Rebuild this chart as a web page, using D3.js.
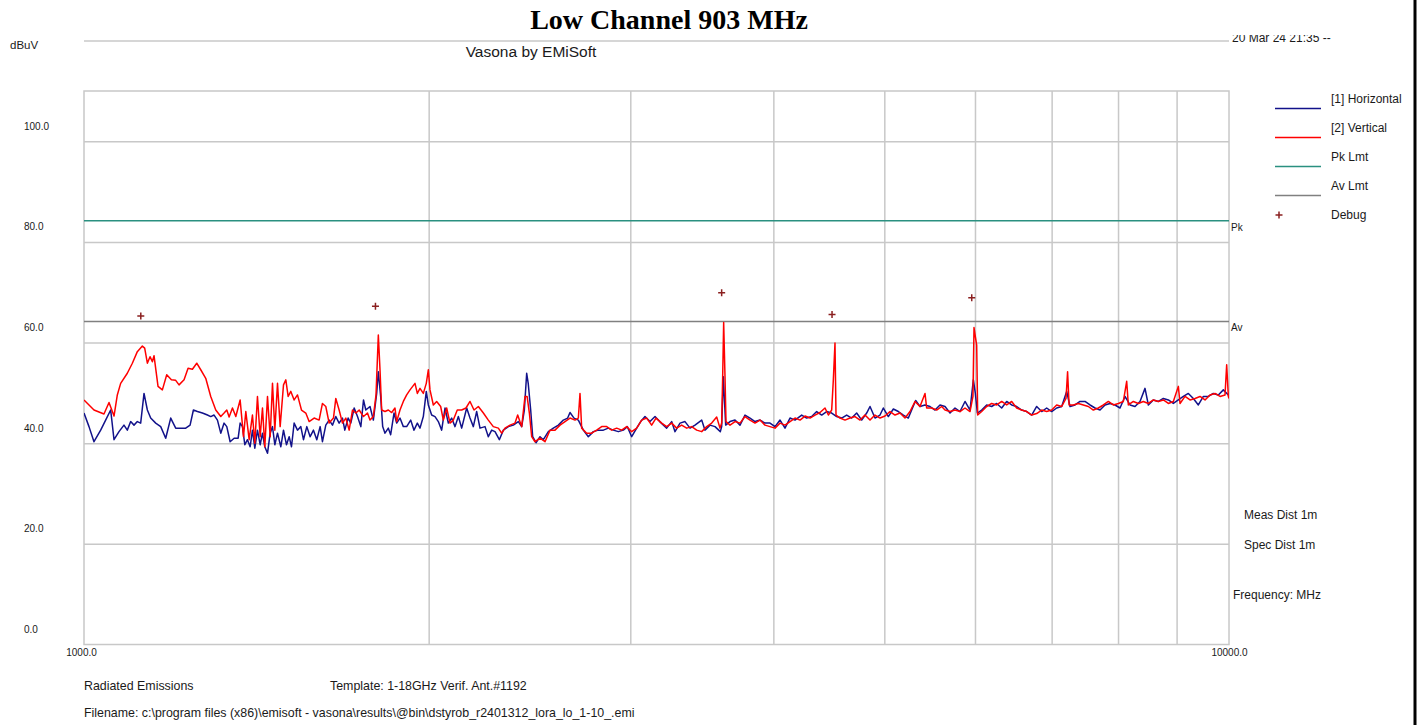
<!DOCTYPE html>
<html>
<head>
<meta charset="utf-8">
<title>Low Channel 903 MHz</title>
<script src="https://cdn.jsdelivr.net/npm/d3@7"></script>
<style>
  body { margin: 0; background: #fff; }
  text { font-family: "Liberation Sans", Arial, sans-serif; fill: #1a1a1a; }
  .title { font-family: "Liberation Serif", "Times New Roman", serif; font-weight: bold; font-size: 28px; fill: #000; }
</style>
</head>
<body>
<div id="chart"></div>
<script>
// scan data: [frequency MHz, level dBuV]
const horizontalScan = [
  [1000,46],[1010.1,43.3],[1020.3,40.3],[1034.1,42.6],[1044.5,44.6],[1055.1,46.6],[1062.2,40.7],[1072.9,42.3],
  [1083.7,43.6],[1091,42.6],[1098.4,44.3],[1105.8,43.6],[1113.2,44.3],[1120.7,44],[1128.3,49.9],[1135.9,46.6],
  [1143.5,45],[1155.1,44],[1166.8,43.3],[1178.6,41],[1190.5,45],[1202.5,43],[1214.7,43],[1227,43],[1237.8,43.6],
  [1246.1,46.6],[1256.2,46.3],[1268.9,46],[1281.7,45.6],[1290.3,45.3],[1299,45.6],[1307.8,44.6],[1316.6,42],
  [1325.4,44],[1332.6,43.3],[1341.6,40.3],[1352.4,41],[1363.4,41],[1368.9,44],[1375.3,43.3],[1381.8,39.7],
  [1389.2,40.7],[1396.7,39.3],[1403.2,42.6],[1409.9,39],[1417.4,42.6],[1425.1,39.7],[1431.8,42],[1438.5,39.3],
  [1446.3,38],[1454.1,42],[1460.9,43.3],[1467.8,39.7],[1475.7,42],[1485.6,39.3],[1493.6,42.6],[1502.6,39.7],
  [1510.7,41.3],[1517.8,39.3],[1525.9,44],[1536.2,42.6],[1546.5,43.3],[1554.8,40.7],[1565.3,43.3],[1575.8,41.3],
  [1586.4,42.6],[1597,40.7],[1607.8,43.3],[1615.3,40.3],[1626.2,43.6],[1637.2,44.6],[1648.2,43.6],[1659.3,45.3],
  [1670.4,44],[1681.7,45],[1689.6,42.6],[1701,45],[1710.1,44],[1721.7,47],[1733.3,45.3],[1744.9,43.3],
  [1754.3,48.6],[1762.5,46.6],[1777.4,47.3],[1789.4,44.6],[1801.4,49.9],[1807.4,54.2],[1815.9,49.3],
  [1823.3,43.3],[1831.8,42],[1844.1,43],[1852.8,41.7],[1865.3,46],[1875.3,44],[1887.9,45],[1900.6,43.3],
  [1913.4,43.3],[1928.9,44.6],[1941.8,42.6],[1954.9,44],[1965.4,43],[1978.6,45.3],[1990.4,50.3],[1998.6,47.6],
  [2012,45.6],[2025.6,45.3],[2039.2,44.3],[2052.9,42.6],[2066.8,47],[2080.6,44],[2094.6,45],[2108.8,43.3],
  [2123,45.3],[2137.2,43],[2158.9,47],[2173.3,45],[2187.9,43.3],[2202.7,46.3],[2217.5,43],[2239.9,43.3],
  [2254.9,41.3],[2270.2,42.6],[2285.4,42.3],[2305.4,40.7],[2324,42.6],[2347.6,43.3],[2371.2,43.6],[2395.2,44.3],
  [2411.3,43.3],[2424.3,46.6],[2435.7,53.9],[2443.2,51.9],[2455.4,46.6],[2465.3,41.3],[2481.8,40.1],
  [2501.8,41.3],[2518.7,40.7],[2544.2,42.3],[2569.8,43],[2595.9,43.6],[2622,44.6],[2644.9,45],[2657.4,46.1],
  [2678.9,45],[2702.3,44.6],[2729.6,42.6],[2757.1,41.3],[2785,42.3],[2813.2,42.6],[2841.7,42.6],[2870.3,43],
  [2899.3,42.6],[2928.6,42.3],[2958.3,42.6],[2982.2,43.3],[3008.3,41.3],[3038.7,43],[3063.3,44.3],[3090,45.3],
  [3121.2,44.3],[3152.8,45.3],[3183.1,44.3],[3227.6,43],[3260.2,44.3],[3282.2,42.3],[3315.4,44],[3348.8,44.3],
  [3382.7,43],[3416.9,43.6],[3463.1,44.6],[3486.3,42.6],[3521.5,43.6],[3557.1,43.3],[3595.4,42.3],[3605.1,43.3],
  [3617.2,53.2],[3634.3,43.6],[3666.1,44.3],[3703.1,44.6],[3740.5,43.6],[3778.3,45.6],[3816.5,45],[3855.1,44.3],
  [3894.1,44.6],[3933.4,44],[3973,44],[4013.3,43.3],[4054,44.6],[4094.8,43],[4136.2,45],[4178,44.6],
  [4234.4,45.6],[4277.2,45],[4320.4,45.3],[4364.1,46.3],[4408.2,45.6],[4452.7,46.3],[4497.8,46],[4543.2,45.3],
  [4589.1,45],[4635.5,45.6],[4682.3,45],[4729.6,46],[4777.4,44.6],[4825.7,46],[4858.2,47.3],[4907.2,45],
  [4956.8,45.6],[4990.1,47],[5040.6,45.3],[5091.5,46.8],[5143,46.3],[5195,45.6],[5247.5,45],[5282.7,46.6],
  [5325.4,48.5],[5372,47.3],[5426.2,47.6],[5480.9,47.3],[5536.5,46.6],[5592.6,47.6],[5649.1,47.3],[5706.2,46],
  [5763.8,47],[5822.1,46.3],[5880.9,48.3],[5940.4,46.6],[5980.3,52.6],[6004.4,49.9],[6028.7,46],[6081.4,46.6],
  [6142.8,47.6],[6204.9,47.3],[6267.7,47.9],[6331,47],[6394.9,48.3],[6459.5,47.6],[6524.8,47.3],[6590.7,46.6],
  [6657.3,46.3],[6724.6,45.6],[6792.6,47.3],[6861.3,46.3],[6930.6,47],[7000.7,46.3],[7071.4,47],[7142.9,47.3],
  [7215,50.3],[7263.5,47.3],[7336.9,47.6],[7411,48.3],[7485.9,48.3],[7561.6,47.6],[7638,47],[7715.2,46.6],
  [7793.3,47.6],[7872,47.9],[7951.5,47.6],[8031.9,47],[8113.1,49.3],[8195,47.6],[8277.9,47.3],[8361.5,48.3],
  [8445.9,50.9],[8502.9,47.6],[8588.8,48.6],[8675.5,48.3],[8763.3,48.9],[8851.9,48.6],[8941.2,47.9],[9031.6,48.6],
  [9122.8,49.3],[9215,49.9],[9308.1,48.9],[9402.1,47.6],[9497.2,49.3],[9593.2,49.3],[9689.9,49.9],[9788.1,49.6],
  [9886.6,50.6],[9986.9,49.6],[10000,49.2]
];

const verticalScan = [
  [1000,48.6],[1020.3,46.6],[1041,45.8],[1051.6,48.1],[1062.2,45.4],[1069.3,49.6],[1076.5,51.9],[1091,53.9],
  [1102.1,55.9],[1113.2,58.2],[1124.5,59.3],[1129.8,58.9],[1135.9,55.9],[1142,57.2],[1147.4,56.2],[1151.2,57.4],
  [1160.5,51.3],[1170.7,50.6],[1181,53.6],[1192.1,52.6],[1202.5,52.5],[1210.6,51.6],[1222.9,52.6],[1232.8,54.9],
  [1243.6,54.7],[1254.5,55.9],[1264.6,54.6],[1277.4,52.9],[1290.3,49.3],[1303.4,46.6],[1316.6,45.3],[1325.4,46],
  [1332.6,46.6],[1338.9,45.2],[1347.9,47],[1357,45.3],[1368.9,48.6],[1378.1,41.3],[1384.6,46.3],[1393.9,40.7],
  [1403.2,45.6],[1409.9,40],[1417.4,49.3],[1425.1,41.3],[1431.8,47],[1438.5,39.3],[1446.3,49.3],[1454.1,41.3],
  [1460.9,51.9],[1467.8,42.6],[1475.7,51.9],[1483.6,43.3],[1493.6,51.6],[1500.6,52.6],[1507.6,49.3],[1515.8,50.3],
  [1525.9,48.6],[1536.2,49.6],[1548.6,46.6],[1562.1,46],[1572.6,44.3],[1588.5,45],[1604.5,44.6],[1615.3,47.9],
  [1626.2,47.3],[1637.2,44],[1651.5,45],[1659.3,48.9],[1670.4,46.6],[1681.7,44],[1693,45],[1704.4,42.6],
  [1715.9,46.6],[1727.5,46],[1739.1,46.6],[1754.3,45.3],[1768.4,46],[1777.4,44.6],[1789.4,45.3],[1799,49.6],
  [1807.4,61.5],[1813.5,54.6],[1819.6,46.6],[1831.8,46.3],[1844.1,46.6],[1856.6,46.1],[1869,47],[1875.3,44.3],
  [1887.9,46.6],[1900.6,48.3],[1913.4,49.6],[1926.3,50.6],[1945.7,51.9],[1954.9,49.9],[1965.4,50.9],[1978.6,49.9],
  [1990.4,51.9],[1998.6,54.6],[2005.3,50.6],[2018.8,47.6],[2032.4,48.3],[2048.8,47.3],[2059.8,44.6],[2073.7,47],
  [2087.6,44],[2101.6,44.6],[2118.4,46.6],[2137.2,46.6],[2155.8,47],[2173.3,48.3],[2190.9,46.6],[2210.1,47.3],
  [2232.5,46],[2254.9,44.6],[2277.6,43.3],[2300.7,43],[2316.2,42],[2331.8,43],[2355.5,43.6],[2379.2,44],
  [2392,45.6],[2411.3,43.3],[2427.5,49.3],[2437.8,49.3],[2448.9,46],[2460.3,41.3],[2476.8,40.3],[2501.8,41],
  [2527.1,40.3],[2552.7,42.6],[2578.4,42.6],[2604.6,43.6],[2630.8,44.3],[2657.4,45],[2684.2,44.6],[2702.3,45],
  [2711.4,49.9],[2720.5,43],[2747.9,42],[2775.7,42],[2803.7,42.6],[2832.2,43.3],[2860.8,43.3],[2889.7,42.6],
  [2918.9,43],[2948.4,42.6],[2978.2,43.3],[3008.3,42.3],[3038.7,43],[3069.4,44.6],[3100.4,45],[3131.7,43.6],
  [3159.2,45],[3195.4,44],[3227.6,43.3],[3260.2,44],[3293.2,43],[3326.5,43.6],[3360.1,43],[3394.1,43.3],
  [3428.4,42.6],[3463.1,42.3],[3498.2,43.3],[3533.4,44],[3569.1,45.2],[3593.1,43],[3605.1,44],[3612.4,53.2],
  [3619.6,64],[3629.3,53.2],[3636.6,44.3],[3666.1,43.6],[3703.1,44.3],[3740.5,44],[3778.3,45.3],[3816.5,44.6],
  [3855.1,44],[3894.1,44.6],[3933.4,43.6],[3973,43.3],[4013.3,43],[4054,44],[4094.8,43.6],[4136.2,44.3],
  [4178,45],[4220.3,44.6],[4262.9,45.4],[4306,45],[4349.5,45.6],[4393.4,46.1],[4437.8,47],[4467.8,45.6],
  [4497.8,46.6],[4512.8,52.6],[4527.8,59.9],[4537.1,45.6],[4573.7,45],[4619.8,44.6],[4666.6,45],[4713.8,45.3],
  [4761.4,44.6],[4809.5,45.6],[4858.2,44.6],[4907.2,45.6],[4956.8,45],[5006.9,45.4],[5057.5,46.3],[5108.6,45.6],
  [5160.2,46],[5212.4,45],[5265.1,46.3],[5318.2,48.3],[5372,47.3],[5426.2,49.9],[5444.4,47],[5499.4,47],
  [5555,46.6],[5611.2,47.3],[5649.1,46.6],[5706.2,46.3],[5763.8,46.6],[5822.1,46.3],[5880.9,47],[5940.4,46.3],
  [5975.6,49.3],[5988.3,63],[6004.4,61.2],[6020.5,59.5],[6032.6,45.6],[6081.4,46.3],[6142.8,47.3],[6204.9,47.9],
  [6267.7,47.6],[6331,48.3],[6394.9,47.6],[6459.5,48.3],[6524.8,47],[6590.7,46.6],[6657.3,46.3],[6724.6,45.6],
  [6792.6,45.9],[6861.3,46.6],[6930.6,46.3],[7000.7,46.6],[7071.4,47.6],[7142.9,47.3],[7205.2,48.9],[7228.1,54.2],
  [7250,47.6],[7312.4,47.6],[7386.3,47.9],[7460.9,47.6],[7536.3,47.3],[7612.5,46.6],[7689.4,47],[7767.1,47.6],
  [7845.6,48.3],[7924.9,47.6],[8005,47.9],[8085.9,48.3],[8140.3,52.3],[8167.6,47.6],[8250.2,48.3],[8333.5,47.9],
  [8417.7,48.3],[8502.9,47.9],[8588.8,48.6],[8675.5,48.3],[8763.3,48.6],[8851.9,47.9],[8941.2,48.3],[9031.6,51.3],
  [9061.9,47.9],[9153.5,49.3],[9246,48.6],[9339.5,48.9],[9433.9,49.3],[9529.2,48.6],[9625.4,49.6],[9722.6,49.9],
  [9821,49.3],[9920.2,49.6],[9953.5,55.6],[9986.9,49.3],[10000,48.9]
];

const debugFreq = [1121, 1797, 3605, 4501, 5961];
const debugLevel = [65.3, 67.2, 69.9, 65.6, 68.9];

const pkLimit = 84.2;
const avLimit = 64.2;

const yLabels = [0, 20, 40, 60, 80, 100];
const yGrid = [20, 40, 60, 80, 100];
const xGrid = [2000, 3000, 4000, 5000, 6000, 7000, 8000, 9000];
const xLabels = [1000, 10000];

const legendNames = ["[1] Horizontal", "[2] Vertical", "Pk Lmt", "Av Lmt", "Debug"];
const legendColors = ["#12128a", "#ff0000", "#2a9080", "#808080", "#8b2020"];

const chartTitle = "Low Channel 903 MHz";

function buildGraph() {
  const plot = { left: 84, right: 1229, top: 91, bottom: 644.5 };
  const gridColor = "#c8c8c8";

  const svg = d3
    .select("#chart")
    .append("svg")
    .attr("width", 1420)
    .attr("height", 725);

  const x = d3.scaleLog().domain([1000, 10000]).range([plot.left, plot.right]);
  const y = d3.scaleLinear().domain([0, 110]).range([plot.bottom, plot.top]);

  // headers
  svg.append("text")
    .attr("class", "title")
    .attr("x", 669)
    .attr("y", 29)
    .attr("text-anchor", "middle")
    .text(chartTitle);

  svg.append("line")
    .attr("x1", plot.left).attr("x2", plot.right)
    .attr("y1", 41).attr("y2", 41)
    .attr("stroke", gridColor).attr("stroke-width", 1.5);

  svg.append("text")
    .attr("x", 531).attr("y", 57)
    .attr("text-anchor", "middle")
    .style("font-size", "15.5px")
    .text("Vasona by EMiSoft");

  svg.append("text")
    .attr("x", 10).attr("y", 49)
    .style("font-size", "11.5px")
    .text("dBuV");

  // date stamp, top of glyphs is cut off in the original
  svg.append("clipPath").attr("id", "dateClip")
    .append("rect").attr("x", 1220).attr("y", 35).attr("width", 200).attr("height", 20);
  svg.append("text")
    .attr("x", 1232).attr("y", 42)
    .attr("clip-path", "url(#dateClip)")
    .style("font-size", "12px")
    .text("20 Mar 24 21:35 --");

  // grid
  svg.append("g")
    .attr("transform", "translate(0," + plot.bottom + ")")
    .call(d3.axisBottom(x).tickValues(xGrid).tickSize(-(plot.bottom - plot.top)).tickFormat(""))
    .call(g => g.select(".domain").remove())
    .selectAll("line").attr("stroke", gridColor).attr("stroke-width", 1.5);

  svg.append("g")
    .attr("transform", "translate(" + plot.left + ",0)")
    .call(d3.axisLeft(y).tickValues(yGrid).tickSize(-(plot.right - plot.left)).tickFormat(""))
    .call(g => g.select(".domain").remove())
    .selectAll("line").attr("stroke", gridColor).attr("stroke-width", 1.5);

  svg.append("rect")
    .attr("x", plot.left).attr("y", plot.top)
    .attr("width", plot.right - plot.left).attr("height", plot.bottom - plot.top)
    .attr("fill", "none").attr("stroke", gridColor).attr("stroke-width", 1.5);

  // axis labels sit above their grid lines
  svg.append("g")
    .attr("transform", "translate(" + plot.left + ",0)")
    .call(d3.axisLeft(y).tickValues(yLabels).tickSize(0).tickFormat(d3.format(".1f")))
    .call(g => g.select(".domain").remove())
    .attr("font-family", null).attr("font-size", null)
    .selectAll("text")
    .attr("x", -60).attr("y", -12).attr("dy", null)
    .attr("text-anchor", "start")
    .style("font-size", "10px");

  svg.append("g")
    .attr("transform", "translate(0," + plot.bottom + ")")
    .call(d3.axisBottom(x).tickValues(xLabels).tickSize(0).tickFormat(d3.format(".1f")))
    .call(g => g.select(".domain").remove())
    .attr("font-family", null).attr("font-size", null)
    .selectAll("text")
    .attr("y", 11.5).attr("dy", null)
    .attr("dx", (d, i) => (i === 0 ? -3 : 0))
    .style("font-size", "10px");

  // limit lines
  [[pkLimit, legendColors[2], "Pk"], [avLimit, legendColors[3], "Av"]].forEach(l => {
    svg.append("line")
      .attr("x1", plot.left).attr("x2", plot.right)
      .attr("y1", y(l[0])).attr("y2", y(l[0]))
      .attr("stroke", l[1]).attr("stroke-width", 1.5);
    svg.append("text")
      .attr("x", 1231).attr("y", y(l[0]) + 10)
      .style("font-size", "10px")
      .text(l[2]);
  });

  // traces
  svg.append("clipPath").attr("id", "plotClip")
    .append("rect")
    .attr("x", plot.left).attr("y", plot.top)
    .attr("width", plot.right - plot.left).attr("height", plot.bottom - plot.top);

  const line = d3.line().x(d => x(d[0])).y(d => y(d[1]));

  [[horizontalScan, legendColors[0]], [verticalScan, legendColors[1]]].forEach(s => {
    svg.append("path")
      .datum(s[0])
      .attr("clip-path", "url(#plotClip)")
      .attr("fill", "none")
      .attr("stroke", s[1])
      .attr("stroke-width", 1.5)
      .attr("stroke-linejoin", "round")
      .attr("d", line);
  });

  // debug markers
  const cross = "M-3.5,0H3.5M0,-3.5V3.5";
  svg.selectAll(".debug")
    .data(d3.zip(debugFreq, debugLevel))
    .enter()
    .append("path")
    .attr("class", "debug")
    .attr("transform", d => "translate(" + x(d[0]) + "," + y(d[1]) + ")")
    .attr("d", cross)
    .attr("stroke", legendColors[4])
    .attr("stroke-width", 1.5);

  // legend
  const legend = svg.selectAll(".legend")
    .data(legendNames)
    .enter()
    .append("g")
    .attr("class", "legend")
    .attr("transform", (d, i) => "translate(0," + (i * 29) + ")");

  legend.append("text")
    .attr("x", 1331).attr("y", 103)
    .style("font-size", "12px")
    .text(d => d);

  legend.filter((d, i) => i < 4)
    .append("line")
    .attr("x1", 1275).attr("x2", 1321)
    .attr("y1", 108.5).attr("y2", 108.5)
    .attr("stroke", (d, i) => legendColors[i])
    .attr("stroke-width", 1.5);

  legend.filter((d, i) => i === 4)
    .append("path")
    .attr("transform", "translate(1279,99)")
    .attr("d", cross)
    .attr("stroke", legendColors[4])
    .attr("stroke-width", 1.5);

  // side notes
  svg.append("text").attr("x", 1244).attr("y", 519).style("font-size", "12px").text("Meas Dist 1m");
  svg.append("text").attr("x", 1244).attr("y", 549).style("font-size", "12px").text("Spec Dist 1m");
  svg.append("text").attr("x", 1233).attr("y", 599).style("font-size", "12px").text("Frequency: MHz");

  // footer
  svg.append("text").attr("x", 84).attr("y", 690).style("font-size", "12.4px").text("Radiated Emissions");
  svg.append("text").attr("x", 330).attr("y", 690).style("font-size", "12.4px").text("Template: 1-18GHz Verif. Ant.#1192");
  svg.append("text").attr("x", 84).attr("y", 717).style("font-size", "12.4px")
    .text("Filename: c:\\program files (x86)\\emisoft - vasona\\results\\@bin\\dstyrob_r2401312_lora_lo_1-10_.emi");

  // black frame edge on the right of the capture
  svg.append("line")
    .attr("x1", 1415).attr("x2", 1415)
    .attr("y1", 0).attr("y2", 725)
    .attr("stroke", "#000").attr("stroke-width", 3);
}

buildGraph();
</script>
</body>
</html>
